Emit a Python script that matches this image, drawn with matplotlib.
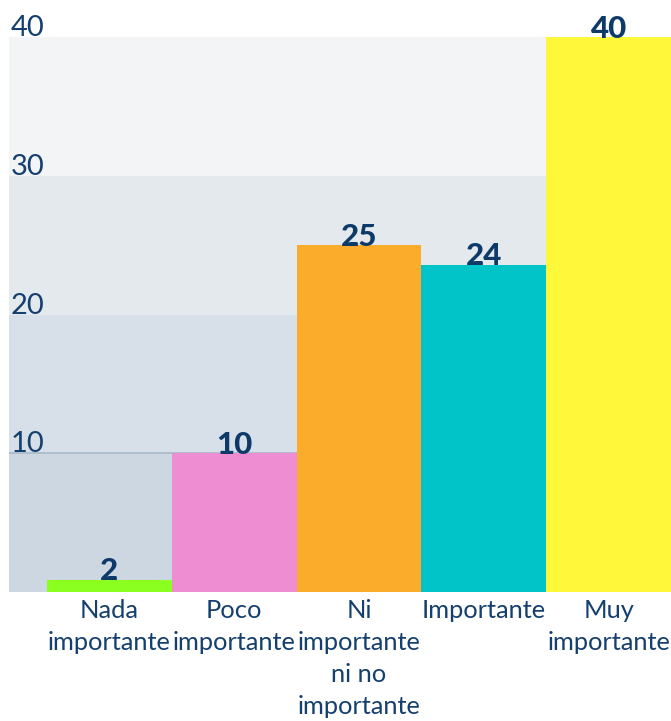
import matplotlib
matplotlib.use("Agg")
import matplotlib.pyplot as plt
from matplotlib import transforms

categories = ["Nada\nimportante", "Poco\nimportante", "Ni\nimportante\nni no\nimportante",
              "Importante", "Muy\nimportante"]
values = [0.9, 10, 25, 23.6, 40]
value_labels = ["2", "10", "25", "24", "40"]
bar_colors = ["#8BFF1F", "#EE8DD2", "#FBAC2A", "#00C4C8", "#FFF73A"]
y_ticks = [10, 20, 30, 40]
band_colors = ["#CDD7E1", "#D7E0E8", "#E4E9EE", "#F2F4F6"]

navy = "#143F6E"
value_navy = "#0E3A6A"

W, H = 671, 721
fig = plt.figure(figsize=(W / 100, H / 100), dpi=100)
ax = fig.add_axes([9 / W, (H - 592) / H, 1 - 9 / W, (592 - 37) / H])

# background bands
lo = 0
for t, c in zip(y_ticks, band_colors):
    ax.axhspan(lo, t, color=c, lw=0, zorder=0)
    lo = t
ax.axhline(10, color="#A9B9C8", lw=1.2, zorder=1)

x = list(range(len(categories)))
ax.bar(x, values, width=1.0, color=bar_colors, zorder=2, linewidth=0)

ax.set_xlim(-0.805, 4.5)
ax.set_ylim(0, 40)

for xi, v, lab in zip(x, values, value_labels):
    ax.annotate(lab, (xi, v), xytext=(0, -4), textcoords="offset points",
                ha="center", va="bottom", fontsize=22.5, fontweight="black",
                family=["Lato", "DejaVu Sans"], color=value_navy, zorder=3)

# y tick labels drawn inside the plot above each gridline
trans = transforms.blended_transform_factory(ax.transAxes, ax.transData)
ax.set_yticks(y_ticks)
ax.set_yticklabels([])
for t in y_ticks:
    ax.annotate(str(t), (0, t), xycoords=trans, xytext=(1, -3),
                textcoords="offset points", ha="left", va="bottom",
                fontsize=21, family=["Lato", "DejaVu Sans"], fontweight="normal",
                color=navy, zorder=3)

ax.set_xticks(x)
ax.set_xticklabels(categories, fontsize=18.3, family=["Lato", "DejaVu Sans"],
                   color=navy, linespacing=1.47)
ax.tick_params(axis="both", length=0)
ax.tick_params(axis="x", pad=5)
for s in ax.spines.values():
    s.set_visible(False)

fig.savefig("out.png", dpi=100, facecolor="white")
